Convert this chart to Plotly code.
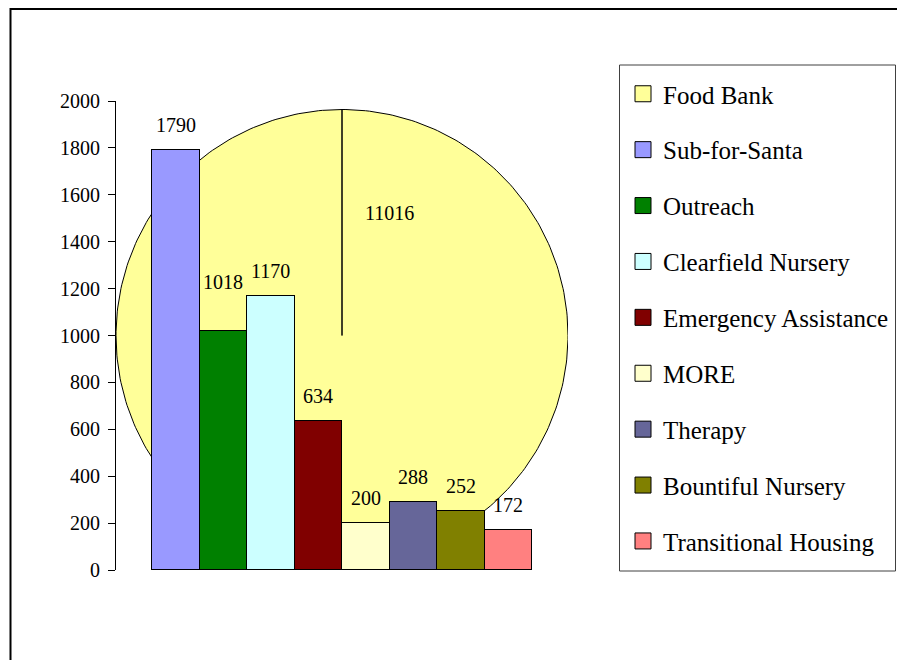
import numpy as np
import plotly.graph_objects as go

# ---------------- data ----------------
pie_names = ["Food Bank"]
pie_values = [11016]

bar_names = ["Sub-for-Santa", "Outreach", "Clearfield Nursery", "Emergency Assistance",
             "MORE", "Therapy", "Bountiful Nursery", "Transitional Housing"]
bar_values = [1790, 1018, 1170, 634, 200, 288, 252, 172]

y_ticks = [0, 200, 400, 600, 800, 1000, 1200, 1400, 1600, 1800, 2000]

# ---------------- style ----------------
colors = {
    "Food Bank": "#FFFF99",
    "Sub-for-Santa": "#9999FF",
    "Outreach": "#008000",
    "Clearfield Nursery": "#CCFFFF",
    "Emergency Assistance": "#800000",
    "MORE": "#FFFFCC",
    "Therapy": "#666699",
    "Bountiful Nursery": "#808000",
    "Transitional Housing": "#FF8080",
}
FONT = "Liberation Serif"
OFF = 8                                # page body margin
W, H = 905 - 2 * OFF, 668 - 2 * OFF    # figure size (fits the window without scrolling)


def fx(px):   # screen px -> paper x
    return (px - OFF) / W


def fy(py):   # screen px -> paper y
    return 1 - (py - OFF) / H


plot_l, plot_r, plot_t, plot_b = 116, 568, 101, 570   # screen px
dom_x = [fx(plot_l), fx(plot_r)]
dom_y = [fy(plot_b), fy(plot_t)]
gap_frac = 72 / 452
side_pad = (gap_frac / 2) / ((1 - gap_frac) / len(bar_names))
label_shift = {n: 25 for n in bar_names}
label_shift["Outreach"] = 49
pie_label_pos = (0.212, 0.542)

fig = go.Figure()

# Food Bank pie (single full slice) drawn behind the bars on the main axes
frac = pie_values[0] / sum(pie_values)
theta = np.linspace(0, 2 * np.pi * frac, 361)
px_ = np.concatenate([[0], np.sin(theta), [0]])
py_ = np.concatenate([[0], np.cos(theta), [0]])
fig.add_trace(go.Scatter(
    x=px_, y=py_, mode="lines", fill="toself",
    fillcolor=colors["Food Bank"], line=dict(color="black", width=1),
    showlegend=False, hoverinfo="skip", xaxis="x", yaxis="y"))

# Bars on overlay axes (drawn above pie)
for n, v in zip(bar_names, bar_values):
    fig.add_trace(go.Bar(
        x=[n], y=[v], name=n, marker=dict(color=colors[n], line=dict(color="black", width=1)),
        showlegend=False, xaxis="x2", yaxis="y2"))

# Legend entries
for n in pie_names + bar_names:
    fig.add_trace(go.Scatter(
        x=[None], y=[None], mode="markers", name=n, legendgroup=n,
        marker=dict(symbol="square", size=16, color=colors[n], line=dict(color="black", width=1)),
        xaxis="x", yaxis="y"))

annotations = []
for n, v in zip(bar_names, bar_values):
    annotations.append(dict(x=n, y=v, xref="x2", yref="y2", text=str(v), showarrow=False,
                            yshift=label_shift[n], yanchor="middle",
                            font=dict(family=FONT, size=20, color="black")))
annotations.append(dict(x=pie_label_pos[0], y=pie_label_pos[1], xref="x", yref="y",
                        text=str(pie_values[0]), showarrow=False,
                        font=dict(family=FONT, size=20, color="black")))

yh = (plot_b - plot_t) / (plot_r - plot_l)
n = len(bar_names)
fig.update_layout(
    width=W, height=H, margin=dict(l=0, r=0, t=0, b=0, autoexpand=False),
    paper_bgcolor="white", plot_bgcolor="rgba(0,0,0,0)",
    barmode="stack", bargap=0,
    xaxis=dict(domain=dom_x, range=[-1, 1], visible=False, fixedrange=True, automargin=False),
    yaxis=dict(domain=dom_y, range=[-yh, yh], visible=False, fixedrange=True, automargin=False),
    xaxis2=dict(overlaying="x", range=[-0.5 - side_pad, n - 0.5 + side_pad], visible=False,
                type="category", categoryorder="array", categoryarray=bar_names,
                automargin=False),
    yaxis2=dict(overlaying="y", side="left", range=[0, 2000], tickvals=y_ticks,
                showgrid=False, zeroline=False, showline=True, linecolor="black", linewidth=1,
                ticks="outside", ticklen=7, tickcolor="black", tickwidth=1, automargin=False,
                tickfont=dict(family=FONT, size=20, color="black"), ticklabelstandoff=4),
    legend=dict(x=fx(623), y=fy(71), xanchor="left", yanchor="top",
                borderwidth=0, bgcolor="rgba(0,0,0,0)",
                font=dict(family=FONT, size=25, color="black"),
                traceorder="grouped", tracegroupgap=20.4, itemwidth=30),
    annotations=annotations,
    shapes=[
        dict(type="rect", xref="paper", yref="paper", x0=fx(10.5), x1=1.05,
             y0=-0.05, y1=fy(OFF + 1), line=dict(color="black", width=2), layer="below"),
        dict(type="rect", xref="paper", yref="paper", x0=fx(619.5), x1=fx(895.5),
             y0=fy(571), y1=fy(65), line=dict(color="#404040", width=1), layer="below"),
    ],
    showlegend=True,
)

fig.write_html("out.html")
